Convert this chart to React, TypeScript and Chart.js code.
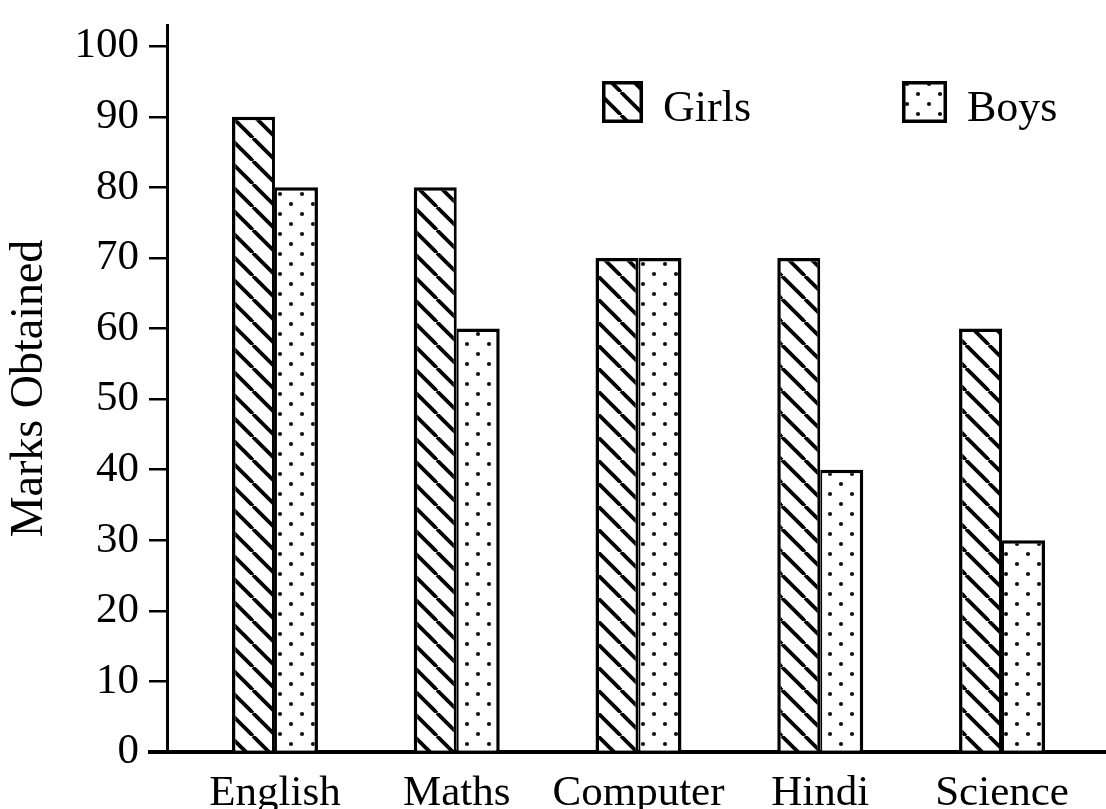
import React, { useEffect, useRef } from 'react';
import { Chart, registerables } from 'chart.js';

Chart.register(...registerables);

const subjects = ['English', 'Maths', 'Computer', 'Hindi', 'Science'];
const girlsMarks = [90, 80, 70, 70, 60];
const boysMarks = [80, 60, 70, 40, 30];
const seriesNames = ['Girls', 'Boys'];
const yTickValues = [0, 10, 20, 30, 40, 50, 60, 70, 80, 90, 100];
const yAxisTitle = 'Marks Obtained';

const FONT = '"Liberation Serif", "Times New Roman", serif';

function makeHatch(): CanvasPattern | string {
  const s = 23;
  const c = document.createElement('canvas');
  c.width = s;
  c.height = s;
  const g = c.getContext('2d');
  if (!g) return '#fff';
  g.fillStyle = '#fff';
  g.fillRect(0, 0, s, s);
  g.strokeStyle = '#000';
  g.lineWidth = 3.8;
  for (let k = -1; k <= 1; k++) {
    g.beginPath();
    g.moveTo(k * s, 0);
    g.lineTo(k * s + s, s);
    g.stroke();
  }
  return g.createPattern(c, 'repeat') || '#fff';
}

function makeDots(): CanvasPattern | string {
  const w = 22;
  const h = 20;
  const c = document.createElement('canvas');
  c.width = w;
  c.height = h;
  const g = c.getContext('2d');
  if (!g) return '#fff';
  g.fillStyle = '#fff';
  g.fillRect(0, 0, w, h);
  g.fillStyle = '#111';
  [[5, 4], [16, 14]].forEach(([x, y]) => {
    g.beginPath();
    g.arc(x, y, 2.1, 0, Math.PI * 2);
    g.fill();
  });
  return g.createPattern(c, 'repeat') || '#fff';
}

const decorPlugin = {
  id: 'decor',
  afterDraw(chart: any) {
    const { ctx, chartArea } = chart;
    ctx.save();
    ctx.strokeStyle = '#000';
    ctx.lineWidth = 4;
    ctx.beginPath();
    ctx.moveTo(148, chartArea.bottom);
    ctx.lineTo(chartArea.left + 1, chartArea.bottom);
    ctx.stroke();

    const boxes = [
      { x: 602, w: 41 },
      { x: 902, w: 45 },
    ];
    chart.data.datasets.forEach((ds: any, i: number) => {
      const b = boxes[i];
      const top = 81;
      const h = 42;
      ctx.fillStyle = ds.backgroundColor;
      ctx.fillRect(b.x, top, b.w, h);
      ctx.lineWidth = 3.5;
      ctx.strokeStyle = '#000';
      ctx.strokeRect(b.x + 1.75, top + 1.75, b.w - 3.5, h - 3.5);
      ctx.fillStyle = '#000';
      ctx.font = `44px ${FONT}`;
      ctx.textBaseline = 'alphabetic';
      ctx.textAlign = 'left';
      ctx.fillText(ds.label, b.x + b.w + 20, 121);
    });
    ctx.restore();
  },
};

export default function App() {
  const canvasRef = useRef<HTMLCanvasElement | null>(null);

  useEffect(() => {
    if (!canvasRef.current) return;
    const hatch = makeHatch();
    const dots = makeDots();

    const chart = new Chart(canvasRef.current, {
      type: 'bar',
      data: {
        datasets: [
          {
            label: seriesNames[0],
            data: subjects.map((_, i) => ({ x: i, y: girlsMarks[i] })),
            backgroundColor: hatch as any,
            borderColor: '#000',
            borderWidth: { top: 3.5, left: 3.5, right: 3, bottom: 0 },
            borderSkipped: 'bottom',
          },
          {
            label: seriesNames[1],
            data: subjects.map((_, i) => ({ x: i, y: boysMarks[i] })),
            backgroundColor: dots as any,
            borderColor: '#000',
            borderWidth: { top: 3.5, left: 2, right: 3.5, bottom: 0 },
            borderSkipped: 'bottom',
          },
        ],
      },
      options: {
        animation: false,
        responsive: true,
        maintainAspectRatio: false,
        categoryPercentage: 0.473,
        barPercentage: 1,
        layout: { padding: { top: 25, left: 0, right: 0, bottom: 0 } },
        plugins: {
          legend: { display: false },
          tooltip: { enabled: false },
        },
        scales: {
          x: {
            type: 'linear',
            min: -0.594,
            max: 4.572,
            offset: false,
            grid: { display: false },
            border: { display: true, color: '#000', width: 4 },
            afterBuildTicks: (scale: any) => {
              scale.ticks = subjects.map((_, i) => ({ value: i }));
            },
            afterFit: (scale: any) => {
              scale.height = 57;
              scale.paddingLeft = 0;
              scale.paddingRight = 0;
            },
            ticks: {
              autoSkip: false,
              maxRotation: 0,
              padding: 8,
              color: '#000',
              font: { family: FONT, size: 43 },
              callback: (v: any) => subjects[Math.round(Number(v))] ?? '',
            },
          },
          y: {
            type: 'linear',
            min: 0,
            max: 103,
            grid: {
              display: true,
              drawOnChartArea: false,
              drawTicks: true,
              tickLength: 18,
              color: '#000',
              lineWidth: 2.5,
            },
            border: { display: true, color: '#000', width: 3 },
            afterBuildTicks: (scale: any) => {
              scale.ticks = yTickValues.map((v) => ({ value: v }));
            },
            afterFit: (scale: any) => {
              scale.width = 167;
              scale.paddingTop = 0;
              scale.paddingBottom = 0;
            },
            ticks: {
              padding: 10,
              color: '#000',
              font: { family: FONT, size: 43 },
            },
            title: {
              display: true,
              text: yAxisTitle,
              color: '#000',
              padding: { top: 2, bottom: 0 },
              font: { family: FONT, size: 46 },
            },
          },
        },
      },
      plugins: [decorPlugin],
    });

    return () => chart.destroy();
  }, []);

  return (
    <div style={{ position: 'fixed', left: 0, top: 0, width: 1106, height: 809, background: '#fff' }}>
      <canvas ref={canvasRef} />
    </div>
  );
}
